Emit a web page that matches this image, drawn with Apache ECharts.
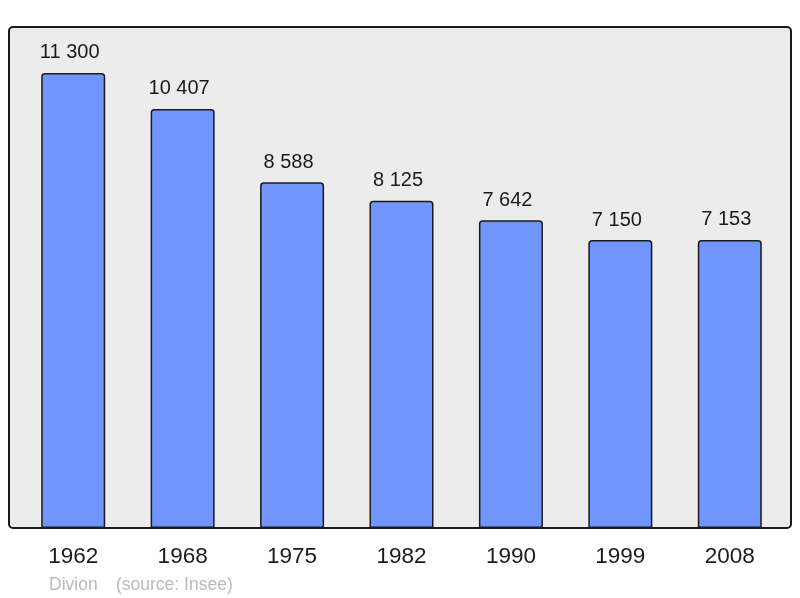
<!DOCTYPE html>
<html><head><meta charset="utf-8">
<script src="https://cdn.jsdelivr.net/npm/echarts@6/dist/echarts.min.js"></script>
<style>html,body{margin:0;padding:0;background:#fff}#c{width:800px;height:598px}</style>
</head><body><div id="c"></div>
<script>
const categories = ['1962','1968','1975','1982','1990','1999','2008'];
const population = [11300, 10407, 8588, 8125, 7642, 7150, 7153];
const placeName = 'Divion';
const sourceText = '(source: Insee)';

function fmt(v){ return String(v).replace(/\B(?=(\d{3})+(?!\d))/g, ' '); }

const chart = echarts.init(document.getElementById('c'), null, {renderer:'canvas'});
chart.setOption({
  animation:false,
  backgroundColor:'#ffffff',
  graphic:[
    {type:'rect', z:-10, shape:{x:9, y:27, width:782, height:501, r:4},
     style:{fill:'#ececec', stroke:'#1a1a1a', lineWidth:2}},
    {type:'text', left:49, top:576, style:{text:placeName, fill:'#bbbbbb', font:'17.5px "Liberation Sans", Arial, sans-serif'}},
    {type:'text', left:116, top:576, style:{text:sourceText, fill:'#bbbbbb', font:'17.5px "Liberation Sans", Arial, sans-serif'}}
  ],
  grid:{left:18.5, right:15.5, top:27, bottom:70, containLabel:false},
  xAxis:{type:'category', data:categories,
    axisLine:{show:false}, axisTick:{show:false},
    axisLabel:{color:'#1a1a1a', fontSize:22.5, margin:17, fontFamily:'"Liberation Sans", Arial, sans-serif'}},
  yAxis:{type:'value', min:0, max:12440, show:false, splitLine:{show:false}},
  series:[{type:'bar', data:population, barWidth:64,
    itemStyle:{color:'#7195ff', borderColor:'#1a1a1a', borderWidth:1.5, borderRadius:[3,3,0,0]},
    label:{show:true, position:'top', distance:10, offset:[-3.5,0], color:'#1a1a1a', fontSize:20,
      fontFamily:'"Liberation Sans", Arial, sans-serif', formatter:p=>fmt(p.value)}}]
});
</script></body></html>
